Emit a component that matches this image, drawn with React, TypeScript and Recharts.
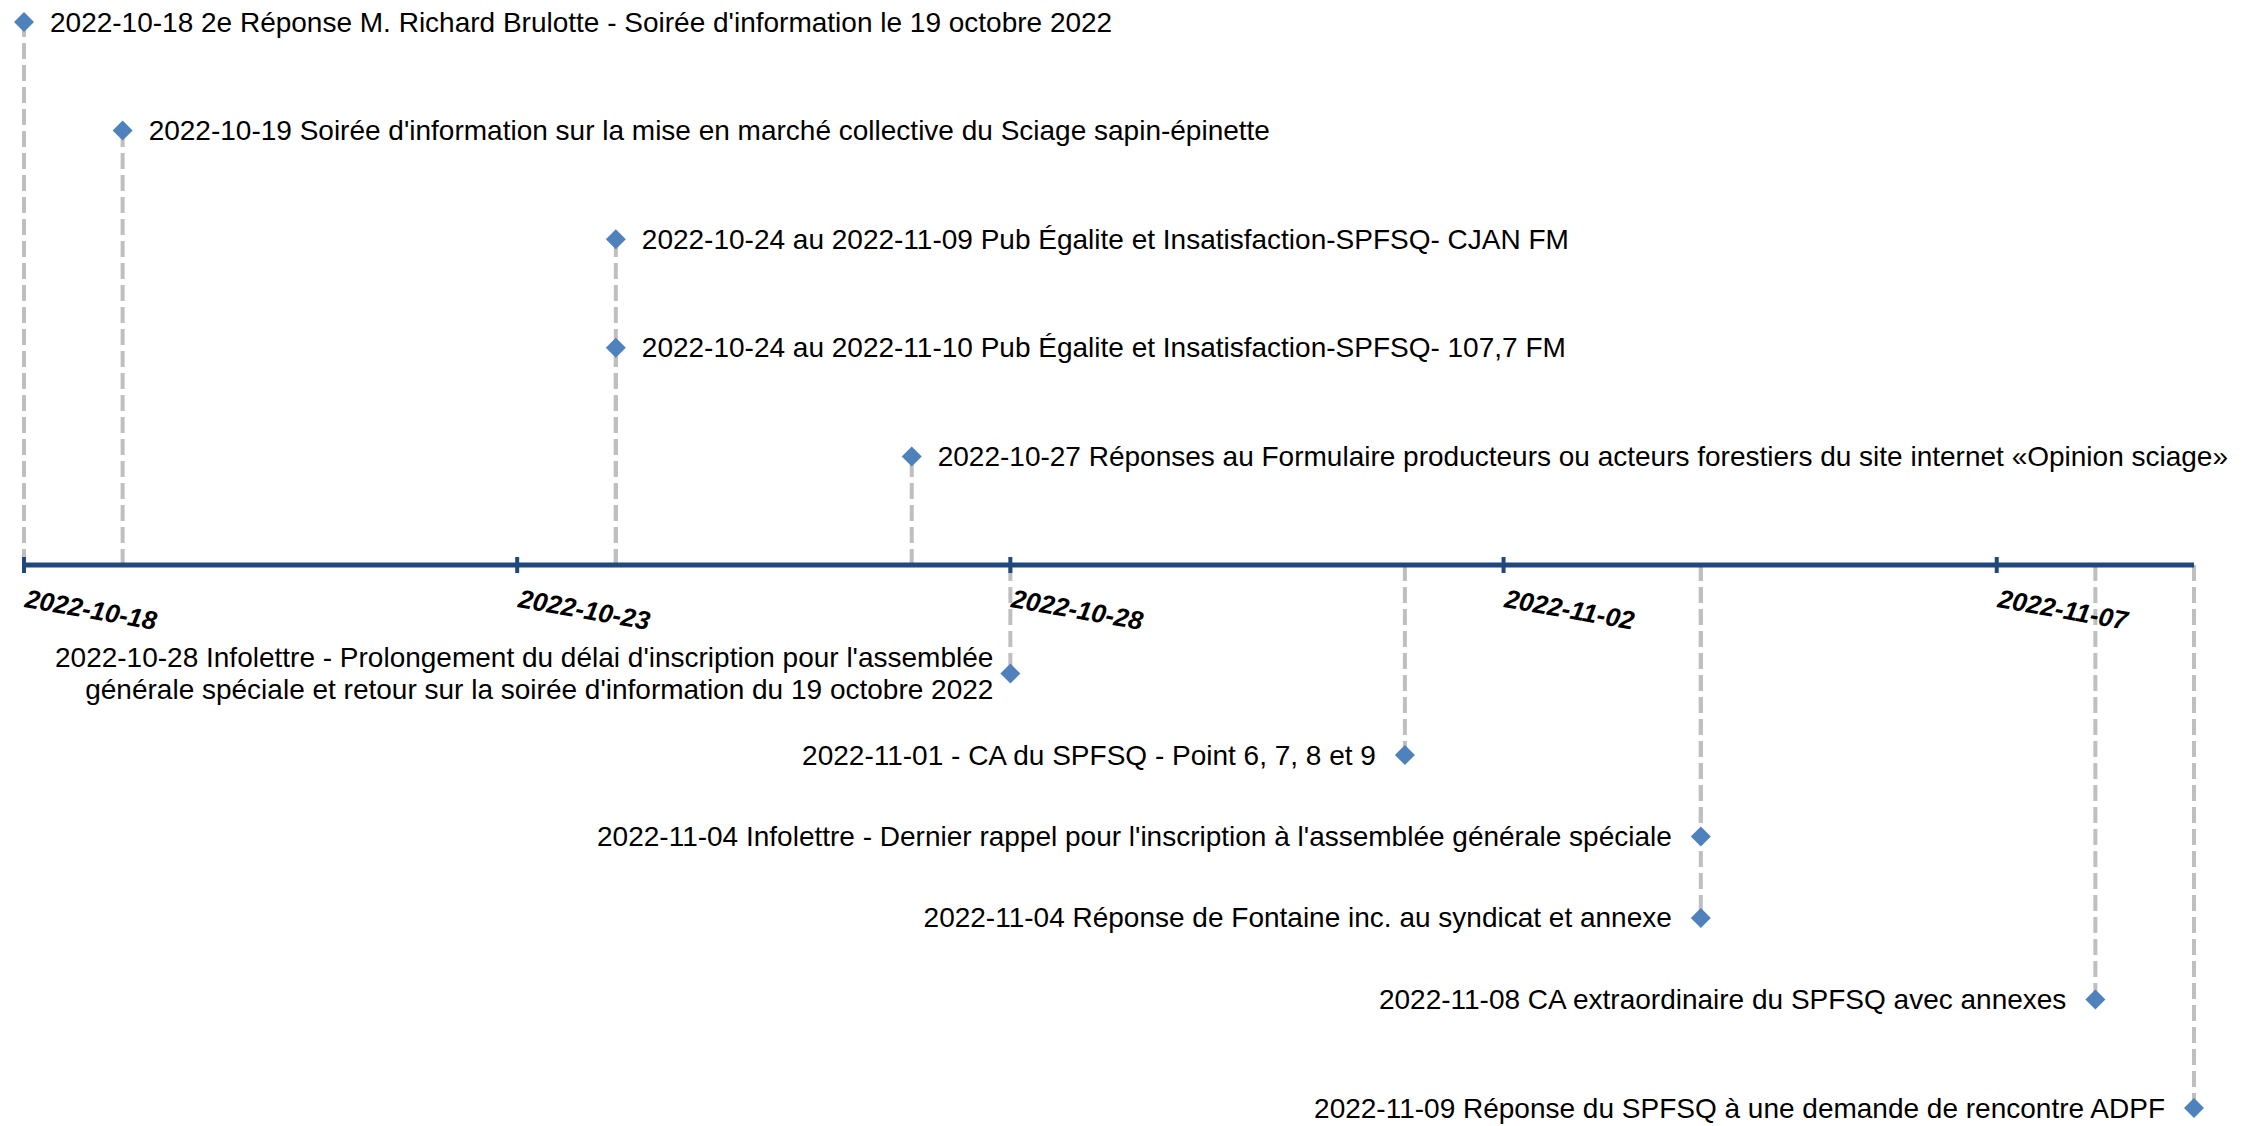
import { ReferenceLine, Scatter, ScatterChart, XAxis, YAxis } from "recharts";

const eventDates = [
  "2022-10-18", "2022-10-19", "2022-10-24", "2022-10-24", "2022-10-27",
  "2022-10-28", "2022-11-01", "2022-11-04", "2022-11-04", "2022-11-08", "2022-11-09",
];
const eventLevels = [5, 4, 3, 2, 1, -1, -1.75, -2.5, -3.25, -4, -5];
const eventLabels = [
  "2022-10-18 2e Réponse M. Richard Brulotte - Soirée d'information le 19 octobre 2022",
  "2022-10-19 Soirée d'information sur la mise en marché collective du Sciage sapin-épinette",
  "2022-10-24 au 2022-11-09 Pub Égalite et Insatisfaction-SPFSQ- CJAN FM",
  "2022-10-24 au 2022-11-10 Pub Égalite et Insatisfaction-SPFSQ- 107,7 FM",
  "2022-10-27 Réponses au Formulaire producteurs ou acteurs forestiers du site internet «Opinion sciage»",
  "2022-10-28 Infolettre - Prolongement du délai d'inscription pour l'assemblée\ngénérale spéciale et retour sur la soirée d'information du 19 octobre 2022",
  "2022-11-01 - CA du SPFSQ - Point 6, 7, 8 et 9",
  "2022-11-04 Infolettre - Dernier rappel pour l'inscription à l'assemblée générale spéciale",
  "2022-11-04 Réponse de Fontaine inc. au syndicat et annexe",
  "2022-11-08 CA extraordinaire du SPFSQ avec annexes",
  "2022-11-09 Réponse du SPFSQ à une demande de rencontre ADPF",
];
const tickDates = ["2022-10-18", "2022-10-23", "2022-10-28", "2022-11-02", "2022-11-07"];
const domainDates = ["2022-10-18", "2022-11-09"];

const FONT = "Arial, 'Liberation Sans', sans-serif";

const events = eventDates.map((d, i) => ({
  x: Date.parse(d), y: eventLevels[i], label: eventLabels[i],
}));
const ticks = tickDates.map((d) => ({ x: Date.parse(d), y: 0, label: d }));

function EventMark(props: any) {
  const { cx, cy, payload } = props;
  if (cx == null || cy == null) return null;
  const lines: string[] = payload.label.split("\n");
  const above = payload.y > 0;
  const lh = 31.5;
  const tx = above ? cx + 26 : cx - (lines.length > 1 ? 17 : 29);
  const y0 = cy - ((lines.length - 1) * lh) / 2;
  return (
    <g>
      <polygon points={`${cx},${cy - 10} ${cx + 10},${cy} ${cx},${cy + 10} ${cx - 10},${cy}`} fill="#4F81BD" />
      <text x={tx} textAnchor={above ? "start" : "end"} fontFamily={FONT} fontSize={28} fill="#000">
        {lines.map((l, i) => (
          <tspan key={i} x={tx} y={y0 + i * lh} dominantBaseline="central">{l}</tspan>
        ))}
      </text>
    </g>
  );
}

function TickMark(props: any) {
  const { cx, cy, payload } = props;
  if (cx == null || cy == null) return null;
  return (
    <g>
      <line x1={cx} y1={cy - 8} x2={cx} y2={cy + 8} stroke="#1F497D" strokeWidth={4} />
      <text x={cx} y={cy + 42} transform={`rotate(10 ${cx} ${cy + 42})`} fontFamily={FONT}
        fontSize={26} fontWeight="bold" fontStyle="italic" fill="#000">
        {payload.label}
      </text>
    </g>
  );
}

export default function App() {
  return (
    <div style={{ position: "absolute", left: 0, top: 0, background: "#fff" }}>
      <ScatterChart width={2247} height={1126} margin={{ top: 22, right: 53, bottom: 18, left: 24 }}>
        <XAxis type="number" dataKey="x" domain={domainDates.map((d) => Date.parse(d))} hide />
        <YAxis type="number" dataKey="y" domain={[-5, 5]} hide />
        {events.map((e, i) => (
          <ReferenceLine key={i} segment={[{ x: e.x, y: 0 }, { x: e.x, y: e.y }]}
            stroke="#BFBFBF" strokeWidth={4} strokeDasharray="16 6" />
        ))}
        <ReferenceLine y={0} stroke="#1F497D" strokeWidth={5} />
        <Scatter data={ticks} shape={(p: any) => <TickMark {...p} />} isAnimationActive={false} />
        <Scatter data={events} shape={(p: any) => <EventMark {...p} />} isAnimationActive={false} />
      </ScatterChart>
    </div>
  );
}
